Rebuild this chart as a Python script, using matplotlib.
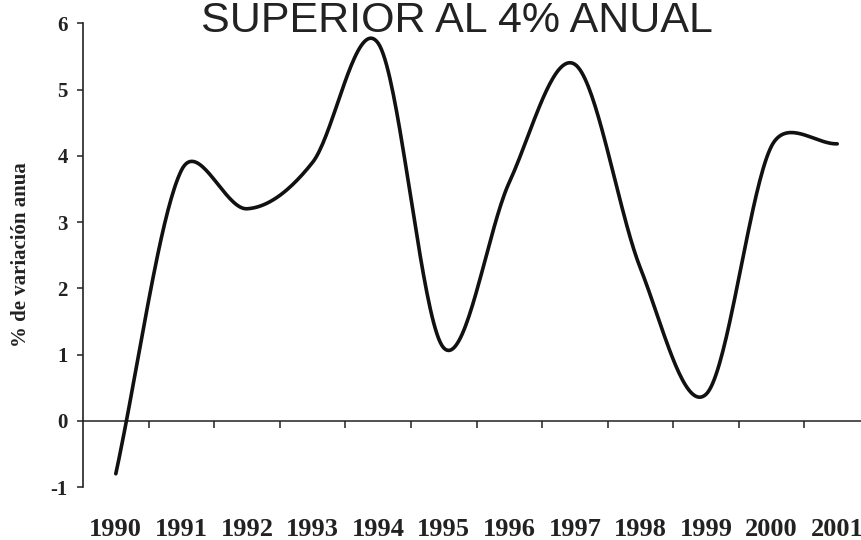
import numpy as np
import matplotlib
matplotlib.use('Agg')
import matplotlib.pyplot as plt

years = ['1990', '1991', '1992', '1993', '1994', '1995',
         '1996', '1997', '1998', '1999', '2000', '2001']
variacion = [-0.8, 3.78, 3.2, 3.9, 5.7, 1.1, 3.6, 5.38, 2.3, 0.4, 4.15, 4.18]
y_ticks = [-1, 0, 1, 2, 3, 4, 5, 6]

title_text = 'SUPERIOR AL 4% ANUAL'
ylabel_text = '% de variación anua'


def excel_smooth(ax, xs, ys, n=40):
    # smoothed line like the spreadsheet one: bezier through the points,
    # control arms computed in screen space and capped at half a segment
    pts = ax.transData.transform(np.column_stack([xs, ys]))
    out = [pts[0]]
    last = len(pts) - 1
    for i in range(last):
        p1, p2 = pts[i], pts[i + 1]
        p0 = pts[i - 1] if i > 0 else p1
        p3 = pts[i + 2] if i + 2 <= last else p2
        d12 = np.hypot(*(p2 - p1))
        f1 = 1 / 6 if i > 0 else 1 / 3
        f2 = 1 / 6 if i + 2 <= last else 1 / 3
        a1 = (p2 - p0) * f1
        a2 = (p3 - p1) * f2
        if np.hypot(*a1) > d12 / 2:
            a1 = a1 / np.hypot(*a1) * d12 / 2
        if np.hypot(*a2) > d12 / 2:
            a2 = a2 / np.hypot(*a2) * d12 / 2
        c1, c2 = p1 + a1, p2 - a2
        t = np.linspace(0, 1, n)[1:, None]
        seg = ((1 - t) ** 3 * p1 + 3 * (1 - t) ** 2 * t * c1
               + 3 * (1 - t) * t ** 2 * c2 + t ** 3 * p2)
        out.extend(seg)
    return ax.transData.inverted().transform(np.array(out))


fig = plt.figure(figsize=(8.62, 5.4), dpi=100)
ax = fig.add_axes([0.0963, 0.0981, 0.913, 0.8588])

x = np.arange(len(years))
ax.set_xlim(-0.5, len(years) - 0.5)
ax.set_ylim(-1, 6)

curve = excel_smooth(ax, x, variacion)
ax.plot(curve[:, 0], curve[:, 1], color='#111111', lw=2.6,
        solid_capstyle='round', solid_joinstyle='round', zorder=3)

# axes: left spine, x axis sitting on the zero line
for side in ['top', 'right']:
    ax.spines[side].set_visible(False)
ax.spines['bottom'].set_position(('data', 0))
ax.spines['bottom'].set_color('#222222')
ax.spines['bottom'].set_linewidth(1.1)
ax.spines['left'].set_color('#222222')
ax.spines['left'].set_linewidth(1.2)

ax.set_yticks(y_ticks)
ax.set_yticklabels([str(v) for v in y_ticks])
ax.tick_params(axis='y', direction='out', length=4, width=1.1,
               pad=7, colors='#222222')

ax.set_xticks(x)
ax.set_xticklabels(years)
ax.set_xticks(x[:-1] + 0.5, minor=True)
ax.tick_params(axis='x', which='major', length=0, pad=70)
ax.tick_params(axis='x', which='minor', direction='out', length=5,
               width=1.1, color='#222222')

for lab in ax.get_xticklabels():
    lab.set_fontfamily('Liberation Serif')
    lab.set_fontweight('bold')
    lab.set_fontsize(19)
    lab.set_color('#222222')
for lab in ax.get_yticklabels():
    lab.set_fontfamily('Liberation Serif')
    lab.set_fontweight('bold')
    lab.set_fontsize(15)
    lab.set_color('#222222')

fig.text(0.024, 0.528, ylabel_text, rotation=90, ha='center', va='center',
         fontfamily='Liberation Serif', fontweight='bold', fontsize=15,
         color='#222222')

fig.text(0.5296, 0.9407, title_text, ha='center', va='baseline',
         fontfamily='Liberation Sans', fontsize=31, color='#222222')

fig.savefig('out.png', dpi=100)
